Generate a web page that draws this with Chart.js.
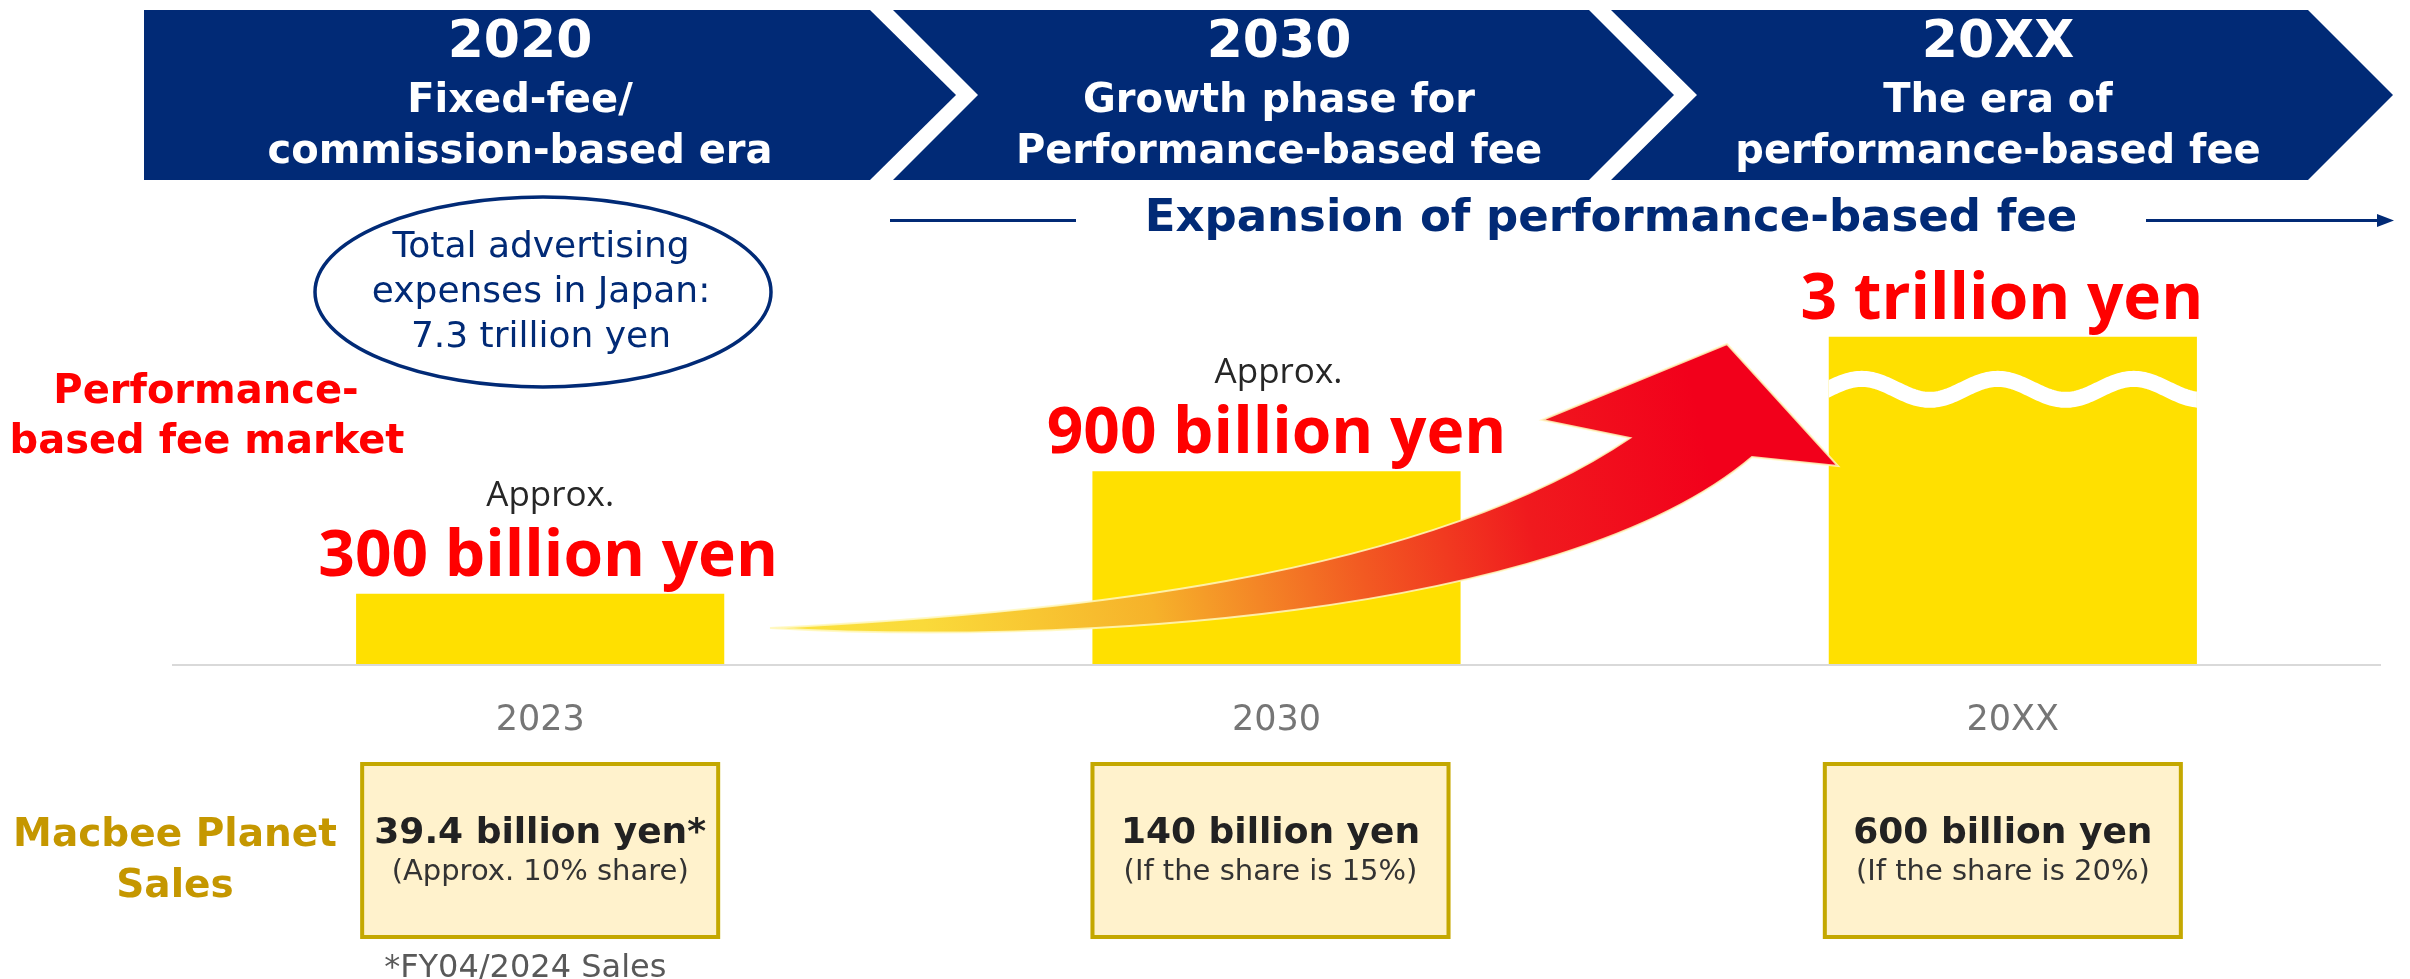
<!DOCTYPE html>
<html><head><meta charset="utf-8">
<script src="https://cdn.jsdelivr.net/npm/chart.js@4.4.1/dist/chart.umd.min.js"></script>
<style>html,body{margin:0;padding:0;background:#fff;overflow:hidden}canvas{display:block}</style>
</head><body>
<canvas id="c" width="2410" height="979"></canvas>
<script>
// ---- data ----
const categories = ['2023', '2030', '20XX'];
const marketValues = [300, 900, 3000];            // billion yen
const marketLabels = ['300 billion yen', '900 billion yen', '3 trillion yen'];
const approxShown = [true, true, false];
const salesMain = ['39.4 billion yen*', '140 billion yen', '600 billion yen'];
const salesSub = ['(Approx. 10% share)', '(If the share is 15%)', '(If the share is 20%)'];
const eraYears = ['2020', '2030', '20XX'];
const eraLine1 = ['Fixed-fee/', 'Growth phase for', 'The era of'];
const eraLine2 = ['commission-based era', 'Performance-based fee', 'performance-based fee'];
const ellipseLines = ['Total advertising', 'expenses in Japan:', '7.3 trillion yen'];

// ---- styles ----
const NAVY = '#012a76';
const RED = '#ff0000';
const YELLOW = '#ffe000';
const GOLD_TEXT = '#c59700';
const GOLD_BORDER = '#c4a800';
const DJ = '"DejaVu Sans", Verdana, sans-serif';
const OS = '"Open Sans", "Noto Sans", sans-serif';

function poly(ctx, pts) {
  ctx.beginPath();
  pts.forEach((p, i) => i ? ctx.lineTo(p[0], p[1]) : ctx.moveTo(p[0], p[1]));
  ctx.closePath();
}
function txt(ctx, s, x, y, font, color, align) {
  ctx.font = font; ctx.fillStyle = color; ctx.textAlign = align || 'center';
  ctx.textBaseline = 'alphabetic'; ctx.fillText(s, x, y);
}

const decor = {
  id: 'decor',
  beforeDatasetsDraw(chart) {
    const ctx = chart.ctx, a = chart.chartArea;
    ctx.save();
    // era banners
    const banners = [
      [[144,10],[870,10],[956,95],[870,180],[144,180]],
      [[893,10],[1589,10],[1674,95],[1589,180],[893,180],[978,95]],
      [[1611,10],[2308,10],[2393,95],[2308,180],[1611,180],[1697,95]]
    ];
    const centers = [520, 1279, 1998];
    banners.forEach((b, i) => {
      poly(ctx, b); ctx.fillStyle = NAVY; ctx.fill();
      txt(ctx, eraYears[i], centers[i], 57, 'bold 52px ' + DJ, '#fff');
      txt(ctx, eraLine1[i], centers[i], 112, 'bold 40px ' + DJ, '#fff');
      txt(ctx, eraLine2[i], centers[i], 163, 'bold 40px ' + DJ, '#fff');
    });
    // expansion line
    txt(ctx, 'Expansion of performance-based fee', 1611, 231, 'bold 45px ' + DJ, NAVY);
    ctx.strokeStyle = NAVY; ctx.lineWidth = 3;
    ctx.beginPath(); ctx.moveTo(890, 220.5); ctx.lineTo(1076, 220.5); ctx.stroke();
    ctx.beginPath(); ctx.moveTo(2146, 220.5); ctx.lineTo(2380, 220.5); ctx.stroke();
    poly(ctx, [[2377,214],[2394,220.5],[2377,227]]); ctx.fillStyle = NAVY; ctx.fill();
    // ellipse
    ctx.beginPath(); ctx.ellipse(543, 292, 228, 95, 0, 0, Math.PI * 2);
    ctx.lineWidth = 3.5; ctx.strokeStyle = NAVY; ctx.stroke();
    ellipseLines.forEach((s, i) => txt(ctx, s, 541, 257 + i * 45, '36px ' + DJ, NAVY));
    // left labels
    txt(ctx, 'Performance-', 206, 403, 'bold 40px ' + DJ, RED);
    txt(ctx, 'based fee market', 207, 453, 'bold 40px ' + DJ, RED);
    // axis line
    ctx.strokeStyle = '#d9d9d9'; ctx.lineWidth = 2;
    ctx.beginPath(); ctx.moveTo(a.left, a.bottom + 1); ctx.lineTo(a.right, a.bottom + 1); ctx.stroke();
    ctx.restore();
  },
  afterDatasetsDraw(chart) {
    const ctx = chart.ctx, a = chart.chartArea;
    const bars = chart.getDatasetMeta(0).data;
    ctx.save();
    // break wave on the last bar
    const b3 = bars[2];
    const left = b3.x - b3.width / 2;
    ctx.save();
    ctx.beginPath(); ctx.rect(left, b3.y, b3.width, b3.base - b3.y); ctx.clip();
    ctx.beginPath();
    for (let x = left - 5; x <= left + b3.width + 5; x += 2) {
      const y = b3.y + 52.5 - 10.5 * Math.cos(2 * Math.PI * (x - (left + 33)) / 136);
      x === left - 5 ? ctx.moveTo(x, y) : ctx.lineTo(x, y);
    }
    ctx.strokeStyle = '#fff'; ctx.lineWidth = 16; ctx.stroke();
    ctx.restore();

    // growth arrow (decoration)
    ctx.beginPath();
    ctx.moveTo(770, 628);
    ctx.bezierCurveTo(1050, 614, 1420, 580, 1630, 438);
    ctx.lineTo(1542, 420);
    ctx.lineTo(1727, 344);
    ctx.lineTo(1838, 466);
    ctx.lineTo(1752, 457);
    ctx.bezierCurveTo(1560, 620, 1050, 645, 770, 628);
    ctx.closePath();
    const g = ctx.createLinearGradient(780, 630, 1700, 420);
    g.addColorStop(0, '#fbe23e');
    g.addColorStop(0.15, '#fada3a');
    g.addColorStop(0.39, '#f6b22a');
    g.addColorStop(0.615, '#f25a22');
    g.addColorStop(0.8, '#f01a1e');
    g.addColorStop(1, '#f2001b');
    ctx.fillStyle = g; ctx.fill();
    ctx.strokeStyle = 'rgba(255,248,190,0.85)'; ctx.lineWidth = 2; ctx.stroke();

    // value labels
    const labelShift = [8, 0, -11];
    bars.forEach((b, i) => {
      const cx = b.x + labelShift[i];
      txt(ctx, marketLabels[i], cx, b.y - 18, 'bold 64px ' + OS, RED);
      if (approxShown[i]) txt(ctx, 'Approx.', cx + 2, b.y - 88, '35px ' + OS, '#262626');
    });

    // category labels and sales boxes
    const boxShift = [0, -6, -10];
    bars.forEach((b, i) => {
      txt(ctx, categories[i], b.x, a.bottom + 66, '35px ' + DJ, '#767676');
      const cx = b.x + boxShift[i];
      const bw = 360, top = a.bottom + 98, bh = 177;
      ctx.fillStyle = '#fff2cc'; ctx.fillRect(cx - bw / 2, top, bw, bh);
      ctx.strokeStyle = GOLD_BORDER; ctx.lineWidth = 4;
      ctx.strokeRect(cx - bw / 2 + 2, top + 2, bw - 4, bh - 4);
      txt(ctx, salesMain[i], cx, top + 81, 'bold 36px ' + DJ, '#222');
      txt(ctx, salesSub[i], cx, top + 118, '29px ' + DJ, '#333');
    });
    txt(ctx, 'Macbee Planet', 175, 846, 'bold 39px ' + DJ, GOLD_TEXT);
    txt(ctx, 'Sales', 175, 897, 'bold 39px ' + DJ, GOLD_TEXT);
    txt(ctx, '*FY04/2024 Sales', bars[0].x - 156, 977, '32px ' + DJ, '#595959', 'left');
    ctx.restore();
  }
};

function build() {
  new Chart(document.getElementById('c'), {
    type: 'bar',
    data: {
      labels: categories,
      datasets: [{
        data: marketValues,
        backgroundColor: YELLOW,
        borderWidth: 0,
        categoryPercentage: 1,
        barPercentage: 0.5
      }]
    },
    options: {
      responsive: false,
      animation: false,
      devicePixelRatio: 1,
      layout: { padding: { left: 172, right: 29, top: 150, bottom: 315 } },
      scales: {
        x: { display: false },
        y: { type: 'logarithmic', display: false, min: 160, max: 16000 }
      },
      plugins: { legend: { display: false }, tooltip: { enabled: false } }
    },
    plugins: [decor]
  });
}
const fl = document.fonts ? Promise.all([
  document.fonts.load('bold 64px "Open Sans"'),
  document.fonts.load('35px "Open Sans"'),
  document.fonts.load('bold 40px "DejaVu Sans"'),
  document.fonts.load('36px "DejaVu Sans"')
]).catch(() => {}) : Promise.resolve();
fl.then(build, build);
</script>
</body></html>
